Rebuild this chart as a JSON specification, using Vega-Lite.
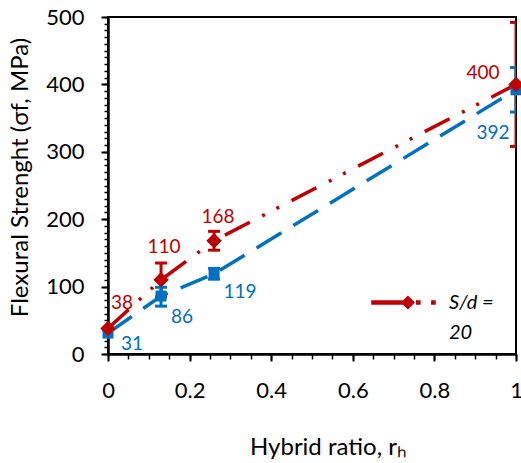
{
  "$schema": "https://vega.github.io/schema/vega-lite/v6.json",
  "width": 408,
  "height": 337,
  "autosize": {"type": "none"},
  "padding": {"left": 108, "top": 17, "right": 5, "bottom": 109},
  "background": "white",
  "config": {
    "view": {"stroke": "black", "strokeWidth": 2},
    "font": "Lato",
    "style": {"guide-label": {"lineHeight": 30}},
    "axis": {"grid": false, "labelFont": "Lato", "titleFont": "Lato", "labelColor": "black", "titleColor": "black", "tickColor": "black", "domainColor": "black", "titleFontWeight": "normal"}
  },
  "data": {"values": [
    {"series": "S/d = 20", "x": 0, "y": 38, "lo": 38, "hi": 38},
    {"series": "S/d = 20", "x": 0.13, "y": 110, "lo": 85, "hi": 135},
    {"series": "S/d = 20", "x": 0.26, "y": 168, "lo": 154, "hi": 182},
    {"series": "S/d = 20", "x": 1, "y": 400, "lo": 308, "hi": 492},
    {"series": "Series 2", "x": 0, "y": 31, "lo": 31, "hi": 31},
    {"series": "Series 2", "x": 0.13, "y": 86, "lo": 71, "hi": 99},
    {"series": "Series 2", "x": 0.26, "y": 119, "lo": 111, "hi": 127},
    {"series": "Series 2", "x": 1, "y": 392, "lo": 359, "hi": 425}
  ]},
  "resolve": {"axis": {"x": "independent", "y": "independent"}},
  "layer": [
    {
      "transform": [{"filter": "datum.series == 'S/d = 20'"}],
      "mark": {"type": "point", "shape": "diamond", "filled": true, "size": 225, "opacity": 1},
      "encoding": {
        "x": {"field": "x", "type": "quantitative", "scale": {"domain": [0, 1], "nice": false}, "axis": null},
        "y": {"field": "y", "type": "quantitative", "scale": {"domain": [0, 500], "nice": false}, "axis": null},
        "color": {"field": "series", "type": "nominal", "scale": {"domain": ["S/d = 20", "Series 2"], "range": ["#C00000", "#0070C0"]}, "legend": {
          "orient": "none", "legendX": 263, "legendY": 253, "padding": 0, "title": null,
          "values": ["S/d = 20"],
          "symbolType": "M-1,-0.05L0.14,-0.05L0.14,0.05L-1,0.05Z M0.14,-0.19L0.33,0L0.14,0.19L-0.05,0Z M0.42,-0.05L0.52,-0.05L0.52,0.05L0.42,0.05Z M0.9,-0.05L1,-0.05L1,0.05L0.9,0.05Z",
          "symbolSize": 3969,
          "symbolOffset": 0,
          "labelExpr": "['S/d =', '20']",
          "labelFont": "Lato", "labelFontSize": 20, "labelFontStyle": "italic", "labelColor": "black",
          "labelOffset": 13,
          "encode": {
            "symbols": {"update": {"fill": {"value": "#C00000"}, "stroke": {"value": "#C00000"}, "strokeWidth": {"value": 0.5}, "strokeDash": {"value": [1, 0]}, "opacity": {"value": 1}}},
            "labels": {"update": {"lineHeight": {"value": 30}}}
          }
        }}
      }
    },
    {
      "transform": [{"filter": "datum.hi > datum.lo"}],
      "mark": {"type": "rule", "strokeWidth": 3, "clip": true},
      "encoding": {
        "x": {"field": "x", "type": "quantitative", "axis": null},
        "y": {"field": "lo", "type": "quantitative", "axis": null},
        "y2": {"field": "hi"},
        "color": {"field": "series", "type": "nominal"}
      }
    },
    {
      "transform": [{"filter": "datum.hi > datum.lo"}],
      "mark": {"type": "tick", "orient": "horizontal", "size": 12, "thickness": 3, "clip": true, "opacity": 1},
      "encoding": {
        "x": {"field": "x", "type": "quantitative", "axis": null},
        "y": {"field": "hi", "type": "quantitative", "axis": null},
        "color": {"field": "series", "type": "nominal"}
      }
    },
    {
      "transform": [{"filter": "datum.hi > datum.lo"}],
      "mark": {"type": "tick", "orient": "horizontal", "size": 12, "thickness": 3, "clip": true, "opacity": 1},
      "encoding": {
        "x": {"field": "x", "type": "quantitative", "axis": null},
        "y": {"field": "lo", "type": "quantitative", "axis": null},
        "color": {"field": "series", "type": "nominal"}
      }
    },
    {
      "transform": [{"filter": "datum.series == 'Series 2'"}],
      "mark": {"type": "line", "strokeWidth": 3.5, "strokeDash": [29, 14], "strokeCap": "butt"},
      "encoding": {
        "x": {"field": "x", "type": "quantitative", "axis": {"orient": "bottom", "values": [0, 0.05, 0.1, 0.15, 0.2, 0.25, 0.3, 0.35, 0.4, 0.45, 0.5, 0.55, 0.6, 0.65, 0.7, 0.75, 0.8, 0.85, 0.9, 0.95, 1], "labels": false, "domain": false, "tickSize": 5, "tickWidth": 1.5, "title": null}},
        "y": {"field": "y", "type": "quantitative", "axis": {"orient": "left", "values": [0, 10, 20, 30, 40, 50, 60, 70, 80, 90, 100, 110, 120, 130, 140, 150, 160, 170, 180, 190, 200, 210, 220, 230, 240, 250, 260, 270, 280, 290, 300, 310, 320, 330, 340, 350, 360, 370, 380, 390, 400, 410, 420, 430, 440, 450, 460, 470, 480, 490, 500], "labels": false, "domain": false, "tickSize": 4, "tickWidth": 1.5, "title": null}},
        "color": {"field": "series", "type": "nominal"}
      }
    },
    {
      "transform": [{"filter": "datum.series == 'S/d = 20'"}],
      "mark": {"type": "line", "strokeWidth": 3.5, "strokeDash": [28, 14, 3, 13, 3, 14], "strokeCap": "butt"},
      "encoding": {
        "x": {"field": "x", "type": "quantitative", "axis": {"orient": "bottom", "values": [0, 0.2, 0.4, 0.6, 0.8, 1], "format": "~g", "labelFontSize": 22, "labelPadding": 19, "labelFlush": false, "labelOverlap": false, "tickSize": 7, "tickWidth": 2, "domainWidth": 2.5, "title": "Hybrid ratio, rₕ", "titleFontSize": 24, "titleX": 220, "titleY": 93, "titleBaseline": "middle", "titleAnchor": null}},
        "y": {"field": "y", "type": "quantitative", "axis": {"orient": "left", "values": [0, 100, 200, 300, 400, 500], "format": "d", "labelFontSize": 22, "labelPadding": 17, "labelOverlap": false, "tickSize": 7, "tickWidth": 2, "domainWidth": 2.5, "title": "Flexural Strenght (σf, MPa)", "titleFontSize": 24, "titleX": -88, "titleY": 160, "titleBaseline": "middle", "titleAngle": -90}},
        "color": {"field": "series", "type": "nominal"}
      }
    },
    {
      "transform": [{"filter": "datum.series == 'Series 2'"}],
      "mark": {"type": "point", "shape": "square", "filled": true, "size": 121, "opacity": 1},
      "encoding": {
        "x": {"field": "x", "type": "quantitative", "axis": null},
        "y": {"field": "y", "type": "quantitative", "axis": null},
        "color": {"field": "series", "type": "nominal"}
      }
    },
    {
      "transform": [{"filter": "datum.series == 'S/d = 20'"}],
      "mark": {"type": "point", "shape": "diamond", "filled": true, "size": 225, "opacity": 1},
      "encoding": {
        "x": {"field": "x", "type": "quantitative", "axis": null},
        "y": {"field": "y", "type": "quantitative", "axis": null},
        "color": {"field": "series", "type": "nominal"}
      }
    },
    {
      "transform": [{"filter": "datum.series == 'S/d = 20' && datum.x == 0"}],
      "mark": {"type": "text", "dx": 14, "dy": -25, "fontSize": 19, "font": "Lato", "color": "#C00000"},
      "encoding": {"x": {"field": "x", "type": "quantitative", "axis": null}, "y": {"field": "y", "type": "quantitative", "axis": null}, "text": {"field": "y"}}
    },
    {
      "transform": [{"filter": "datum.series == 'S/d = 20' && datum.x == 0.13"}],
      "mark": {"type": "text", "dx": 3, "dy": -33, "fontSize": 19, "font": "Lato", "color": "#C00000"},
      "encoding": {"x": {"field": "x", "type": "quantitative", "axis": null}, "y": {"field": "y", "type": "quantitative", "axis": null}, "text": {"field": "y"}}
    },
    {
      "transform": [{"filter": "datum.series == 'S/d = 20' && datum.x == 0.26"}],
      "mark": {"type": "text", "dx": 4, "dy": -24, "fontSize": 19, "font": "Lato", "color": "#C00000"},
      "encoding": {"x": {"field": "x", "type": "quantitative", "axis": null}, "y": {"field": "y", "type": "quantitative", "axis": null}, "text": {"field": "y"}}
    },
    {
      "transform": [{"filter": "datum.series == 'S/d = 20' && datum.x == 1"}],
      "mark": {"type": "text", "dx": -33, "dy": -11, "fontSize": 19, "font": "Lato", "color": "#C00000"},
      "encoding": {"x": {"field": "x", "type": "quantitative", "axis": null}, "y": {"field": "y", "type": "quantitative", "axis": null}, "text": {"field": "y"}}
    },
    {
      "transform": [{"filter": "datum.series == 'Series 2' && datum.x == 0"}],
      "mark": {"type": "text", "dx": 24, "dy": 11, "fontSize": 19, "font": "Lato", "color": "#0070C0"},
      "encoding": {"x": {"field": "x", "type": "quantitative", "axis": null}, "y": {"field": "y", "type": "quantitative", "axis": null}, "text": {"field": "y"}}
    },
    {
      "transform": [{"filter": "datum.series == 'Series 2' && datum.x == 0.13"}],
      "mark": {"type": "text", "dx": 21, "dy": 21, "fontSize": 19, "font": "Lato", "color": "#0070C0"},
      "encoding": {"x": {"field": "x", "type": "quantitative", "axis": null}, "y": {"field": "y", "type": "quantitative", "axis": null}, "text": {"field": "y"}}
    },
    {
      "transform": [{"filter": "datum.series == 'Series 2' && datum.x == 0.26"}],
      "mark": {"type": "text", "dx": 26, "dy": 18, "fontSize": 19, "font": "Lato", "color": "#0070C0"},
      "encoding": {"x": {"field": "x", "type": "quantitative", "axis": null}, "y": {"field": "y", "type": "quantitative", "axis": null}, "text": {"field": "y"}}
    },
    {
      "transform": [{"filter": "datum.series == 'Series 2' && datum.x == 1"}],
      "mark": {"type": "text", "dx": -23, "dy": 43, "fontSize": 19, "font": "Lato", "color": "#0070C0"},
      "encoding": {"x": {"field": "x", "type": "quantitative", "axis": null}, "y": {"field": "y", "type": "quantitative", "axis": null}, "text": {"field": "y"}}
    }
  ]
}
